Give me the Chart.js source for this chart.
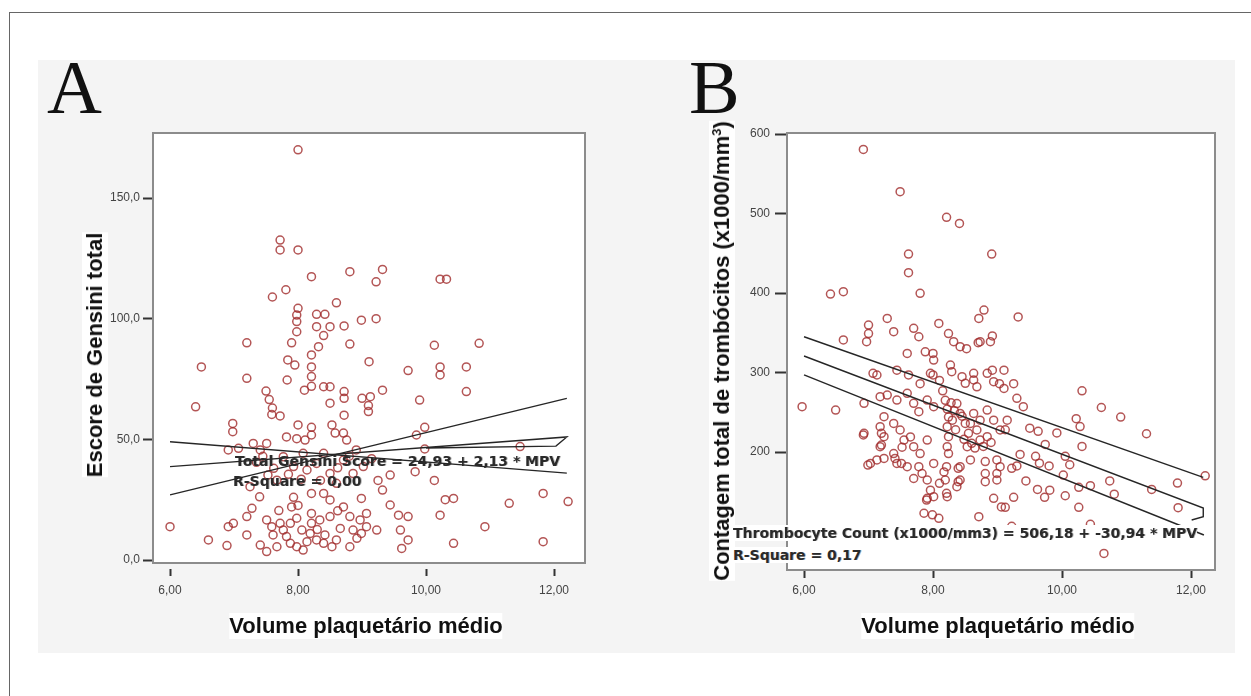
<!DOCTYPE html>
<html>
<head>
<meta charset="utf-8">
<script src="https://cdn.jsdelivr.net/npm/chart.js@4.4.1/dist/chart.umd.min.js"></script>
<style>
body{margin:0;width:1251px;height:696px;background:#fff;position:relative;overflow:hidden;font-family:"Liberation Sans",Arial,sans-serif}
#frame{position:absolute;left:9px;top:12px;width:1300px;height:720px;border:1px solid #666}
#panel{position:absolute;left:38px;top:60px;width:1197px;height:593px;background:#f4f4f4}
canvas{position:absolute}
.lbl{position:absolute;white-space:nowrap;color:#111}
.letter{font-family:"Liberation Serif","Times New Roman",serif;font-size:76px;line-height:76px}
.title{font-weight:bold;font-size:22px;line-height:26px;background:#fff}
.rot{transform:translate(-50%,-50%) rotate(-90deg)}
.hc{transform:translate(-50%,-50%)}
.eq{font-family:"DejaVu Sans",Verdana,sans-serif;font-weight:bold;font-size:14px;line-height:16px;color:#2a2a2a;text-shadow:1px 0 0 rgba(0,0,0,.3)}
.wb{background:#fff}
</style>
</head>
<body>
<div id="frame"></div>
<div id="panel"></div>
<canvas id="chartA" width="600" height="600" style="left:40px;top:60px"></canvas>
<canvas id="chartB" width="550" height="600" style="left:690px;top:60px"></canvas>

<div class="lbl letter" style="left:47px;top:49px">A</div>
<div class="lbl letter" style="left:689px;top:49px">B</div>

<div class="lbl title rot" style="left:95px;top:355px">Escore de Gensini total</div>
<div class="lbl title hc" style="left:366px;top:626px">Volume plaquetário médio</div>
<div class="lbl title rot" style="left:722px;top:351px">Contagem total de trombócitos (x1000/mm<sup style="font-size:13px;line-height:0">3</sup>)</div>
<div class="lbl title hc" style="left:998px;top:626px">Volume plaquetário médio</div>

<div class="lbl eq" style="left:235px;top:453px">Total Gensini Score = 24,93 + 2,13 * MPV</div>
<div class="lbl eq" style="left:233px;top:473px">R-Square = 0,00</div>
<div class="lbl eq wb" style="left:733px;top:525px">Thrombocyte Count (x1000/mm3) = 506,18 + -30,94 * MPV</div>
<div class="lbl eq wb" style="left:733px;top:547px">R-Square = 0,17</div>

<script>
// A: Gensini x MPV
const gensiniPoints=[
[8.00,170],[7.72,132.6],[7.72,128.5],[8.00,128.5],[8.21,117.4],[8.81,119.5],[9.32,120.4],[9.22,115.3],[10.22,116.4],[10.32,116.4],
[7.60,109],[7.81,112],[8.60,106.6],[8.00,104.3],[7.98,101.5],[7.98,98.8],[7.98,94.6],[7.90,90],[8.29,101.8],[8.42,101.8],
[8.29,96.7],[8.50,96.7],[8.40,93],[8.72,97],[8.99,99.4],[9.22,100],[7.20,90],[8.81,89.5],[8.32,88.4],[8.21,85],
[8.21,80],[8.21,76],[8.21,72],[7.84,82.9],[7.95,80.8],[7.83,74.6],[7.20,75.3],[6.49,80],[9.11,82.2],[10.13,89],
[10.83,89.8],[9.72,78.5],[10.22,80],[10.22,76.7],[10.63,80],[10.63,69.8],[9.90,66.3],[6.40,63.5],[8.10,70.4],[8.40,71.8],
[8.50,71.8],[8.72,69.8],[8.72,67],[8.50,65],[9.00,67],[9.10,64],[9.10,61.5],[9.13,67.7],[9.32,70.4],[7.50,70],
[7.55,66.5],[7.60,63],[7.59,60.3],[7.72,59.7],[8.72,60],[6.98,56.6],[6.98,53.2],[8.00,56],[8.21,55],[8.21,51.8],
[8.53,56],[8.58,52.6],[8.71,52.6],[7.82,51],[7.98,50.3],[8.11,49.7],[7.30,48.3],[7.51,48.3],[7.41,45.6],[6.91,45.6],
[7.07,46.3],[8.76,49.7],[8.91,45.6],[9.85,51.8],[9.98,55],[9.98,46],[11.47,47],
[7.93,38.7],[8.14,37.3],[8.29,40],[8.50,35.9],[9.02,38.7],[8.86,35.9],[8.60,31.8],[7.77,42.8],[8.08,44.2],[8.40,44.2],
[8.71,41.4],[7.53,35.2],[7.67,33.1],[7.25,30.4],[7.35,40.5],[7.62,38],[7.85,35.5],[8.05,33.5],[8.35,33],[8.62,38.2],
[8.80,43],[9.15,42],[9.25,33],[7.45,43],
[7.40,26.2],[7.93,26],[7.90,22],[8.21,27.6],[8.40,27.6],[8.50,24.9],[8.71,22],[8.99,25.5],[9.32,29],[9.44,22.8],
[9.57,18.6],[9.72,18],[10.30,25],[10.43,25.5],[10.22,18.6],[11.30,23.5],[11.83,27.6],[12.22,24.2],[10.92,13.8],[10.43,6.9],
[11.83,7.6],[9.62,4.8],[9.72,8.3],[9.44,35.2],[9.83,36.6],[10.13,33],[6.00,13.8],[6.60,8.3],[6.89,6],[6.91,13.8],
[6.99,15.2],[7.20,18],[7.20,10.4],[7.28,21.4],[7.41,6.2],[7.51,3.5],
[7.51,16.6],[7.59,13.8],[7.61,10.4],[7.72,15.2],[7.77,12.4],[7.82,9.7],[7.88,6.9],[7.98,5.5],[8.08,4.1],[8.21,19.3],
[8.21,15.2],[8.19,11],[8.29,8.3],[8.40,6.9],[8.42,10.4],[8.53,5.5],[8.60,8.3],[8.66,13.1],[8.81,18],[8.86,12.4],
[8.92,9],[8.81,5.5],[8.97,16.6],[8.99,11],[9.23,12.4],[8.50,18],[8.34,16.6],[8.06,12.4],[7.98,17.3],[7.88,15.2],
[7.67,5.5],[8.14,7.6],[9.60,12.4],[9.07,19.3],[9.07,13.8],[7.70,20.5],[8.00,22.6],[8.62,20.4],[8.30,12.6]
];
// fit lines as they appear (mean + the two band lines)
const gensiniFit=[[6,38.7],[12.2,51.0],[12.03,47.2],[10.0,46.4]];
const gensiniBand1=[[6,49],[12.2,36]];
const gensiniBand2=[[6,27],[12.2,67]];
const gensiniYTicks=[0,50,100,150];

// B: thrombocytes x MPV
const plateletPoints=[
[6.92,580.7],[7.49,527.5],[8.21,495.2],[8.41,487.6],[7.62,449],[8.91,449],[7.62,425.6],
[9.32,370],[9.25,286],[9.30,267.6],[9.40,257],[10.31,277],[10.61,256],[10.91,244],[10.22,242],[10.28,232],[11.31,223],
[9.50,230],[9.63,226],[9.92,224],[9.74,209.5],[9.35,197],[9.30,182.5],[10.31,207],[10.05,194.6],[10.12,184],[9.80,182.5],
[9.59,194.6],[9.65,186],[9.44,163.7],[9.62,153],[9.73,143],[10.05,145],[10.26,155.6],[10.44,157.7],[10.26,130.5],[9.25,143],
[9.12,130.5],[11.39,153],[11.79,161],[12.22,170],[11.80,130],[10.44,109],[10.65,72.5],[9.22,106.5],[10.74,163.7],[10.81,147],
[9.10,303],[9.10,280],[9.15,240],[9.12,228],[9.22,179.5],[10.02,171],[9.81,152],
[6.41,398.7],[6.61,401.7],[7.80,399.6],[7.29,368],[7.39,351.4],[7.00,359.7],[7.00,349],[6.97,338.8],[6.61,341],[8.09,361.8],
[8.24,349],[8.32,338.8],[8.42,332.5],[8.71,368],[8.79,378.6],[8.73,338.8],[8.89,338.8],[7.70,355.6],[7.78,345],[7.60,324],
[7.88,326],[8.01,315.7],[7.96,299],[8.27,309.4],[8.29,301],[8.45,294.8],[8.50,286.4],[8.63,290.6],[8.68,282],[8.84,299],
[8.94,288.5],[7.13,296.9],[7.29,271.7],[7.44,265.4],[7.60,273.8],[7.70,261.2],[7.78,250.7],[7.91,265.4],[8.01,257],[6.93,261.2],
[5.97,257],[6.49,252.8],[7.24,244.4],[7.18,231.9],[7.24,219.3],[7.18,206.7],[7.39,236],[7.49,227.7],[7.55,215],[7.52,206],
[7.65,219],[7.70,206.7],[7.80,198],[7.91,215],[8.10,290],[8.15,277],[8.19,265],[8.22,254],[8.24,244],[8.22,231.9],
[8.24,219.3],[8.22,206.7],[8.24,198],[8.37,261],[8.42,248.6],[8.50,236],[8.55,223.5],[8.63,248.6],[8.73,240],[8.68,227.7],
[8.84,252.8],[8.94,240],[9.04,227.7],[8.53,206.7],[8.60,211],[8.73,215],[8.84,219.3],[6.93,223.5],[7.03,185.7],[7.13,190],
[7.24,192],[7.39,198],[7.44,185.7],[7.60,181.5],[7.78,181.5],[7.83,173],[7.91,164.8],[7.96,152],[8.01,185.7],[8.17,175],
[8.21,181.5],[8.19,164.8],[8.21,148],[8.37,156.4],[8.42,181.5],[8.42,164.8],[8.58,190],[8.81,188],[8.81,173],[8.81,162.7],
[8.99,190],[9.04,181.5],[7.91,141.7],[8.01,143.8],[7.86,123],[7.99,121],[8.09,116.6],[8.22,143.8],[8.71,118.7],[8.94,141.7],
[9.06,131],[8.39,179.5],[8.39,162.7],[8.99,173],[8.99,164.8],[6.99,183.6],[7.20,208.8],[7.41,192],[7.51,185.7],[7.07,299],
[6.92,221.4],[7.20,223.5],[7.18,269.6],[7.44,303],[7.62,297],[7.80,286],[8.00,297],[8.63,299],[8.92,303],[9.03,286],
[7.90,139.6],[8.70,337.5],[8.92,346],[8.00,324],[8.52,330],[7.70,166.7],[8.10,160.6],
[8.28,262],[8.33,252],[8.30,240],[8.45,245],[8.35,228],[8.58,236],[8.65,205],[8.78,207],[8.90,212],[8.48,216]
];
const plateletFit=[[6,320.8],[12.19,129.6],[12.19,118.6],[12.01,114.5]];
const plateletUpper=[[6,345],[12.19,168]];
const plateletLower=[[6,297],[12.2,95.6]];
const plateletYTicks=[200,300,400,500,600];

const mpvTicks=[6,8,10,12];

const pts=a=>a.map(p=>({x:p[0],y:p[1]}));

const plotFrame={
    id:"plotFrame",
    beforeDraw(c){
        const a=c.chartArea, g=c.ctx;
        g.save();
        g.fillStyle="#fff";
        g.fillRect(a.left,a.top,a.width,a.height);
        g.restore();
    },
    afterDraw(c){
        const a=c.chartArea, g=c.ctx;
        g.save();
        g.strokeStyle="#8c8c8c";
        g.lineWidth=2;
        g.strokeRect(a.left,a.top,a.width,a.height);
        g.restore();
    }
};

function lineSet(data){
    return {data:pts(data),showLine:true,pointRadius:0,borderColor:"#262626",borderWidth:1.4,fill:false,order:0};
}

function makeChart(id,o){
    return new Chart(document.getElementById(id),{
        type:"scatter",
        data:{datasets:[
            {data:pts(o.points),pointRadius:4,pointHoverRadius:4,borderWidth:1.5,
             borderColor:"rgba(160,42,42,0.8)",backgroundColor:"rgba(0,0,0,0)",order:1},
            ...o.lines.map(lineSet)
        ]},
        options:{
            responsive:false,animation:false,
            layout:{padding:o.pad},
            plugins:{legend:{display:false},tooltip:{enabled:false}},
            scales:{
                x:{type:"linear",min:o.xmin,max:o.xmax,
                    afterBuildTicks:s=>{s.ticks=mpvTicks.map(v=>({value:v}));},
                    afterFit:s=>{s.height=40;},
                    grid:{drawOnChartArea:false,tickLength:o.xTickLen,tickWidth:2,tickColor:"#333",tickBorderDash:o.xDash},
                    border:{display:true,color:"#8c8c8c",width:2},
                    ticks:{autoSkip:false,maxRotation:0,padding:o.xPad,color:"#444",
                        font:{size:12,family:"Liberation Sans, Arial"},
                        callback:v=>v.toFixed(2).replace(".",",")}
                },
                y:{type:"linear",min:o.ymin,max:o.ymax,
                    afterBuildTicks:s=>{s.ticks=o.yTicks.map(v=>({value:v}));},
                    afterFit:s=>{s.width=o.yWidth;},
                    grid:{drawOnChartArea:false,tickLength:o.yTickLen,tickWidth:2,tickColor:"#333"},
                    border:{display:true,color:"#8c8c8c",width:2},
                    ticks:{autoSkip:false,padding:o.yPad,color:"#444",
                        font:{size:12,family:"Liberation Sans, Arial"},
                        callback:o.yFmt}
                }
            }
        },
        plugins:[plotFrame]
    });
}

makeChart("chartA",{
    points:gensiniPoints,
    lines:[gensiniFit,gensiniBand1,gensiniBand2],
    xmin:5.734,xmax:12.484,ymin:-1.24,ymax:176.96,
    yTicks:gensiniYTicks,yFmt:v=>v.toFixed(1).replace(".",","),
    pad:{left:0,top:73,right:55,bottom:57},yWidth:113,
    xTickLen:13,xDash:[0,5,8,0],xPad:7,yTickLen:10,yPad:3
});

makeChart("chartB",{
    points:plateletPoints,
    lines:[plateletFit,plateletUpper,plateletLower],
    xmin:5.736,xmax:12.372,ymin:51.6,ymax:601.3,
    yTicks:plateletYTicks,yFmt:v=>String(v),
    pad:{left:0,top:73,right:25,bottom:50},yWidth:97,
    xTickLen:8,xDash:[],xPad:5,yTickLen:12,yPad:5
});
</script>
</body>
</html>
